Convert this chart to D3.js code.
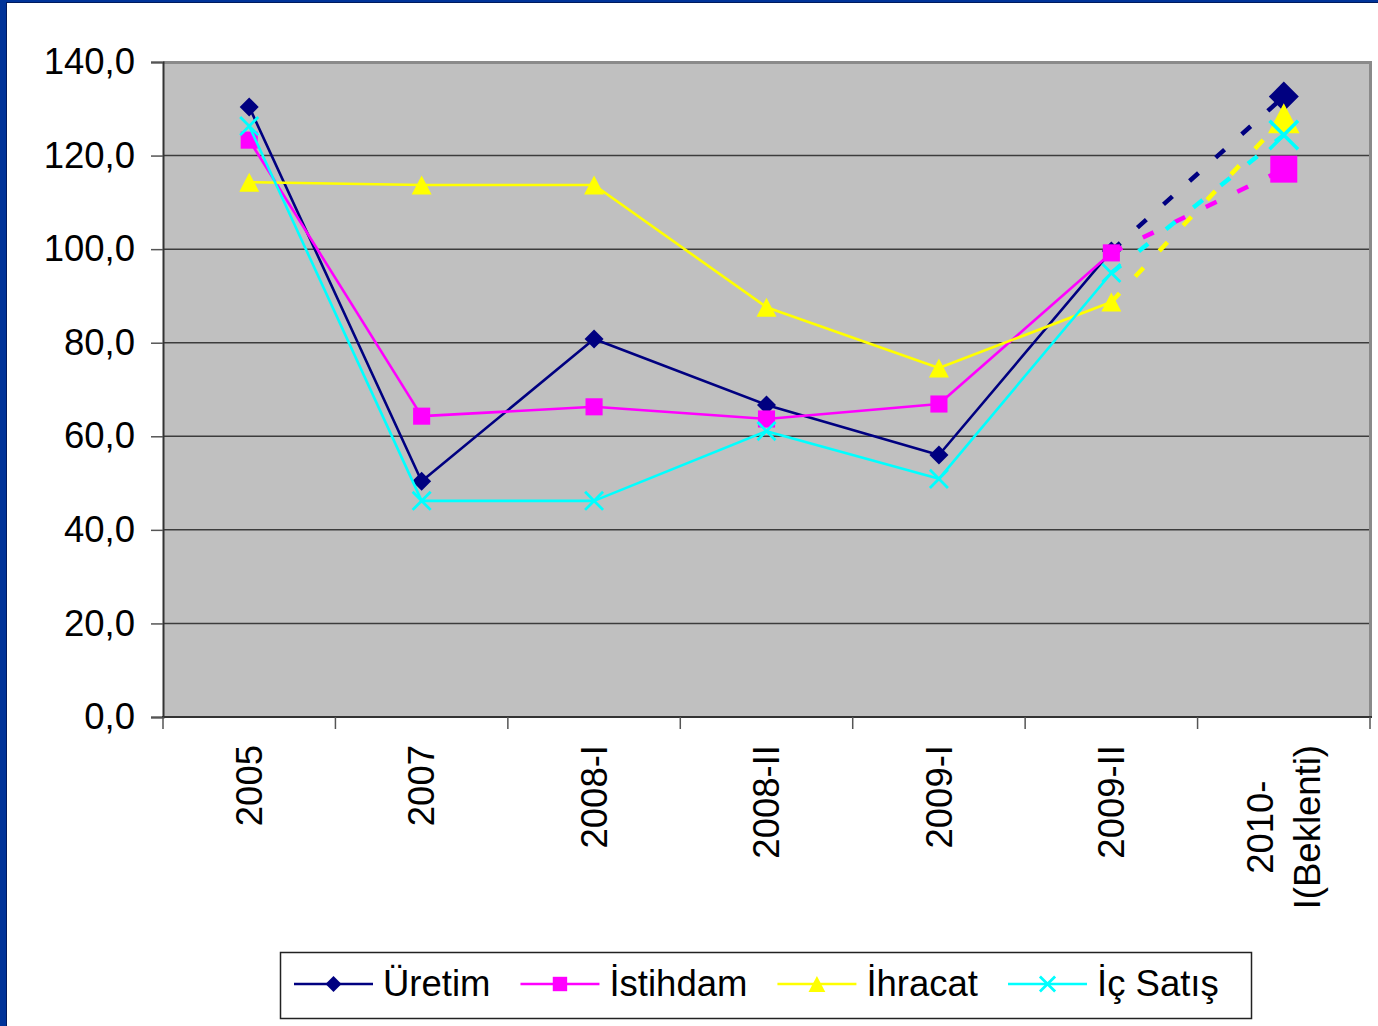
<!DOCTYPE html>
<html>
<head>
<meta charset="utf-8">
<script src="https://cdn.jsdelivr.net/npm/d3@7"></script>
<style>
  html, body { margin: 0; padding: 0; background: #fff; }
  svg { display: block; }
  text { font-family: "Liberation Sans", Arial, sans-serif; fill: #000; }
</style>
</head>
<body>
<svg id="chart" width="1378" height="1026"></svg>
<script>
// ---- data ----
const categories = [["2005"], ["2007"], ["2008-I"], ["2008-II"], ["2009-I"], ["2009-II"], ["2010-", "I(Beklenti)"]];
const seriesNames = ["Üretim", "İstihdam", "İhracat", "İç Satış"];
const uretim   = [130.4, 50.4, 80.8, 66.7, 56.0, 99.6, 132.6];
const istihdam = [123.3, 64.3, 66.3, 63.7, 66.9, 99.2, 117.1];
const ihracat  = [114.3, 113.7, 113.7, 87.6, 74.6, 88.7, 128.0];
const icSatis  = [126.3, 46.2, 46.2, 61.1, 50.9, 94.9, 124.4];
const yTicks = [0, 20, 40, 60, 80, 100, 120, 140];
const seriesColors = ["#000080", "#FF00FF", "#FFFF00", "#00FFFF"];
const seriesShapes = ["diamond", "square", "triangle", "cross"];
const seriesValues = [uretim, istihdam, ihracat, icSatis];

// ---- layout ----
const svg = d3.select("#chart");
const plot = { left: 163, right: 1370, top: 62, bottom: 717 };
const FONT = 36.5;

// frame border (blue)
svg.append("rect").attr("x", 0).attr("y", 0).attr("width", 1378).attr("height", 3).attr("fill", "#003399");
svg.append("rect").attr("x", 0).attr("y", 0).attr("width", 7).attr("height", 1026).attr("fill", "#003399");
svg.append("line").attr("x1", 6.5).attr("x2", 6.5).attr("y1", 2).attr("y2", 1026).attr("stroke", "#001a5e").attr("stroke-width", 1);
svg.append("line").attr("x1", 6).attr("x2", 1378).attr("y1", 2.5).attr("y2", 2.5).attr("stroke", "#001a5e").attr("stroke-width", 1);

const y = d3.scaleLinear().domain([0, 140]).range([plot.bottom, plot.top]);
const xEdge = d3.scaleLinear().domain([0, categories.length]).range([plot.left, plot.right]);
const xc = i => xEdge(i + 0.5);

// plot area
svg.append("rect")
  .attr("x", plot.left).attr("y", plot.top)
  .attr("width", plot.right - plot.left).attr("height", plot.bottom - plot.top)
  .attr("fill", "#C0C0C0");

// gridlines
svg.append("g").selectAll("line").data(yTicks.filter(v => v > 0 && v < 140)).join("line")
  .attr("x1", plot.left).attr("x2", plot.right)
  .attr("y1", d => y(d)).attr("y2", d => y(d))
  .attr("stroke", "#3c3c3c").attr("stroke-width", 1.5);

// top & right border (grey)
svg.append("path")
  .attr("d", `M${plot.left},${plot.top + 0.5} H${plot.right + 0.5} V${plot.bottom}`)
  .attr("fill", "none").attr("stroke", "#8a8a8a").attr("stroke-width", 3);

// y axis
const yAxis = svg.append("g").attr("transform", `translate(${plot.left},0)`)
  .call(d3.axisLeft(y).tickValues(yTicks).tickSize(12).tickPadding(16)
    .tickFormat(v => d3.format(".1f")(v).replace(".", ",")));
yAxis.select(".domain").attr("stroke", "#333").attr("stroke-width", 2);
yAxis.selectAll(".tick line").attr("stroke", "#555").attr("stroke-width", 1.5);
yAxis.selectAll(".tick text").attr("font-size", FONT).attr("font-family", "Liberation Sans, Arial, sans-serif").attr("fill", "#000");

// x axis baseline & ticks
svg.append("line").attr("x1", plot.left - 1).attr("x2", plot.right + 2)
  .attr("y1", plot.bottom).attr("y2", plot.bottom).attr("stroke", "#333").attr("stroke-width", 2);
svg.append("g").selectAll("line").data(d3.range(categories.length + 1)).join("line")
  .attr("x1", d => xEdge(d)).attr("x2", d => xEdge(d))
  .attr("y1", plot.bottom).attr("y2", plot.bottom + 12)
  .attr("stroke", "#555").attr("stroke-width", 1.5);

// x labels (rotated, block anchored at top, lines centered)
const labelTop = 745;
const lineH = 47;
categories.forEach((lines, i) => {
  const g = svg.append("g");
  const t = g.append("text").attr("font-size", FONT).attr("text-anchor", "middle");
  const n = lines.length;
  lines.forEach((ln, k) => {
    t.append("tspan").attr("x", 0).attr("y", (k - (n - 1) / 2) * lineH).attr("dy", "0.35em").text(ln);
  });
  let maxLen = 0;
  t.selectAll("tspan").each(function () { maxLen = Math.max(maxLen, this.getComputedTextLength()); });
  g.attr("transform", `translate(${xc(i)},${labelTop + maxLen / 2}) rotate(-90)`);
});

// marker drawing
function marker(g, shape, cx, cy, s, color) {
  if (shape === "diamond") {
    g.append("path").attr("d", `M${cx},${cy - s} L${cx + s},${cy} L${cx},${cy + s} L${cx - s},${cy} Z`).attr("fill", color);
  } else if (shape === "square") {
    const h = s * 0.9;
    g.append("rect").attr("x", cx - h).attr("y", cy - h).attr("width", 2 * h).attr("height", 2 * h).attr("fill", color);
  } else if (shape === "triangle") {
    const w = s * 1.05;
    g.append("path").attr("d", `M${cx},${cy - s} L${cx + w},${cy + s} L${cx - w},${cy + s} Z`).attr("fill", color);
  } else if (shape === "cross") {
    const h = s * 0.95;
    g.append("path").attr("d", `M${cx - h},${cy - h} L${cx + h},${cy + h} M${cx - h},${cy + h} L${cx + h},${cy - h}`)
      .attr("stroke", color).attr("stroke-width", s > 10 ? 3.5 : 2.8).attr("fill", "none");
  }
}

const line = d3.line().x(d => xc(d.i)).y(d => y(d.v));
const last = categories.length - 1;

seriesValues.forEach((vals, si) => {
  const g = svg.append("g");
  const pts = vals.map((v, i) => ({ i, v }));
  g.append("path").datum(pts.slice(0, last))
    .attr("d", line).attr("fill", "none").attr("stroke", seriesColors[si])
    .attr("stroke-width", 2.6).attr("stroke-linejoin", "round");
  g.append("path").datum(pts.slice(last - 1))
    .attr("d", line).attr("fill", "none").attr("stroke", seriesColors[si])
    .attr("stroke-width", 4.5).attr("stroke-dasharray", "12,23");
  pts.forEach(p => marker(g, seriesShapes[si], xc(p.i), y(p.v), p.i === last ? 15 : 9.5, seriesColors[si]));
});

// legend
const leg = { x: 280, y: 952, w: 971, h: 66 };
svg.append("rect").attr("x", leg.x + 0.5).attr("y", leg.y + 0.5).attr("width", leg.w).attr("height", leg.h)
  .attr("fill", "#fff").attr("stroke", "#222").attr("stroke-width", 1.5);
let lx = 294;
const ly = 984;
seriesNames.forEach((name, si) => {
  const g = svg.append("g");
  g.append("line").attr("x1", lx).attr("x2", lx + 79).attr("y1", ly).attr("y2", ly)
    .attr("stroke", seriesColors[si]).attr("stroke-width", 2.6);
  marker(g, seriesShapes[si], lx + 39.5, ly, 8, seriesColors[si]);
  const t = g.append("text").attr("x", lx + 89).attr("y", 996).attr("font-size", FONT).text(name);
  lx = lx + 89 + t.node().getComputedTextLength() + 30;
});
</script>
</body>
</html>
